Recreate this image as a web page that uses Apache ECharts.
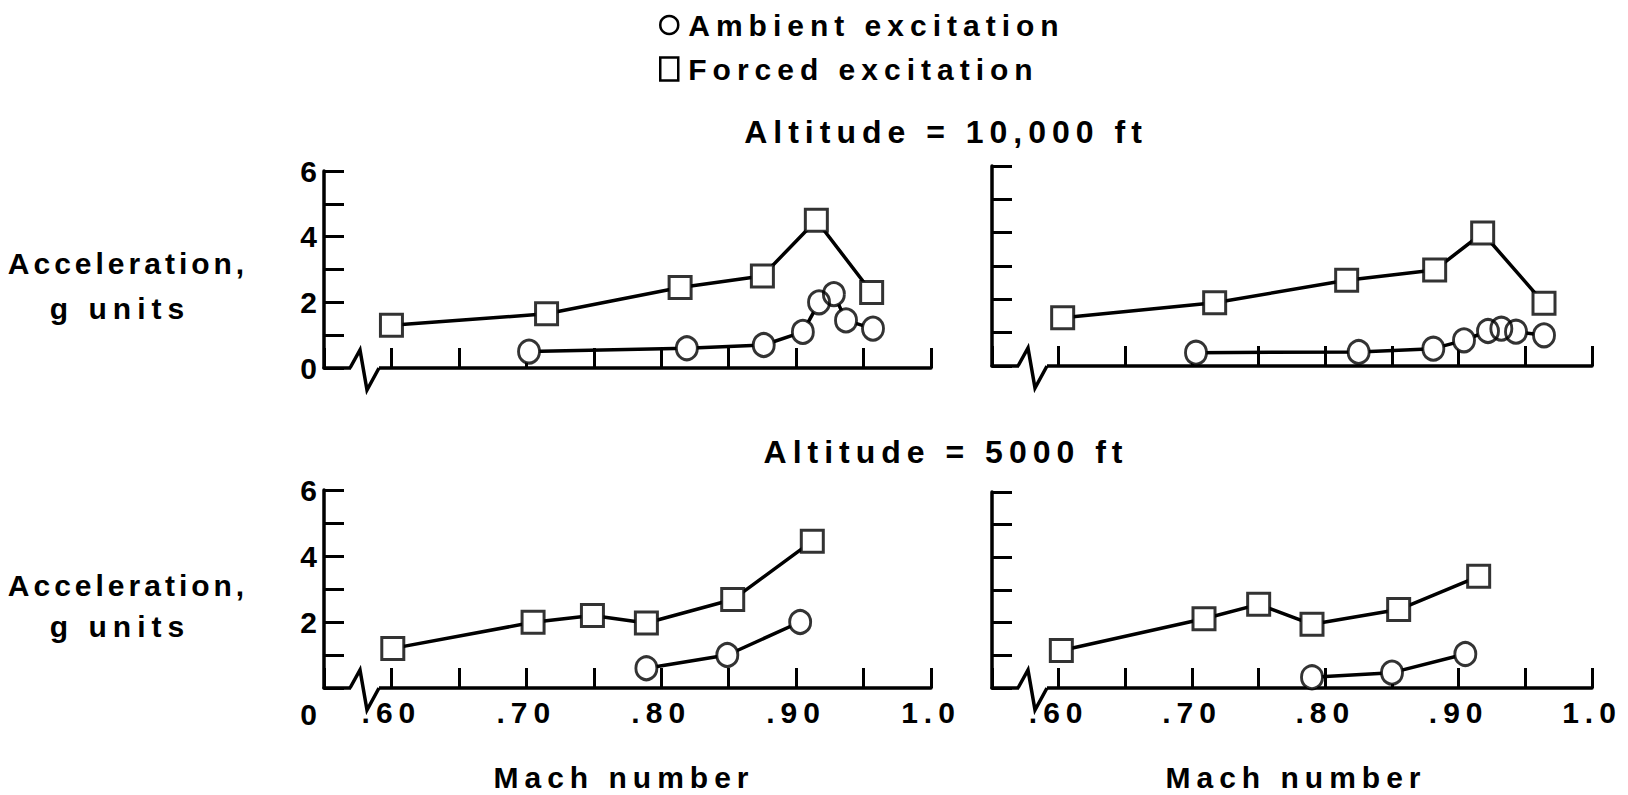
<!DOCTYPE html>
<html>
<head>
<meta charset="utf-8">
<title>Acceleration vs Mach number</title>
<script src="https://cdn.jsdelivr.net/npm/echarts@6/dist/echarts.min.js"></script>
<style>
html, body { margin: 0; padding: 0; background: #fff; }
#chart { width: 1628px; height: 795px; }
#chart text { letter-spacing: 6px; }
</style>
</head>
<body>
<div id="chart"></div>
<script>
'use strict';

// values: Mach number and acceleration (g units)
var hiLeftForcedMach = [0.600, 0.715, 0.814, 0.875, 0.915, 0.956];
var hiLeftForcedAcc = [1.3, 1.65, 2.45, 2.8, 4.5, 2.3];
var hiLeftAmbientMach = [0.702, 0.819, 0.876, 0.905, 0.917, 0.928, 0.937, 0.957];
var hiLeftAmbientAcc = [0.5, 0.6, 0.7, 1.1, 2.0, 2.25, 1.45, 1.2];

var hiRightForcedMach = [0.603, 0.717, 0.816, 0.882, 0.918, 0.964];
var hiRightForcedAcc = [1.45, 1.9, 2.57, 2.88, 3.99, 1.88];
var hiRightAmbientMach = [0.703, 0.825, 0.881, 0.904, 0.922, 0.932, 0.943, 0.964];
var hiRightAmbientAcc = [0.4, 0.42, 0.52, 0.77, 1.05, 1.12, 1.03, 0.92];

var loLeftForcedMach = [0.601, 0.705, 0.749, 0.789, 0.853, 0.912];
var loLeftForcedAcc = [1.2, 1.99, 2.2, 1.97, 2.68, 4.45];
var loLeftAmbientMach = [0.789, 0.849, 0.903];
var loLeftAmbientAcc = [0.6, 1.0, 2.0];

var loRightForcedMach = [0.602, 0.709, 0.75, 0.79, 0.855, 0.915];
var loRightForcedAcc = [1.15, 2.12, 2.56, 1.95, 2.4, 3.42];
var loRightAmbientMach = [0.79, 0.85, 0.905];
var loRightAmbientAcc = [0.33, 0.47, 1.04];

var machTicks = [0.60, 0.70, 0.80, 0.90, 1.0];
var machTickLabels = ['.60', '.70', '.80', '.90', '1.0'];
var accTicks = [0, 2, 4, 6];
var accTickLabels = ['0', '2', '4', '6'];

var AMBIENT = 'Ambient excitation';
var FORCED = 'Forced excitation';
var Y_TITLE = ['Acceleration,', 'g units'];
var FONT = '"Liberation Sans", Arial, sans-serif';
var FONT_SIZE = 30;

var grids = [
    { left: 324, top: 171, width: 607, height: 197 },
    { left: 992, top: 166, width: 600, height: 200 },
    { left: 324, top: 490, width: 607, height: 198 },
    { left: 992, top: 492, width: 600, height: 196 }
];
var panels = [
    { yLabels: true, xLabels: false, dropZero: false },
    { yLabels: false, xLabels: false, dropZero: false },
    { yLabels: true, xLabels: true, dropZero: true },
    { yLabels: false, xLabels: true, dropZero: false }
];

function pickLabel(v, ticks, labels) {
    for (var i = 0; i < ticks.length; i++) {
        if (Math.abs(v - ticks[i]) < 1e-6) return labels[i];
    }
    return '';
}

function pairs(xs, ys) {
    return xs.map(function(x, k) { return [x, ys[k]]; });
}

var textBase = { color: '#000', fontSize: FONT_SIZE, fontWeight: 'bold', fontFamily: FONT };

function makeSeries(name, symbol, size, xs, ys, idx) {
    return [{
        name: name,
        type: 'line',
        xAxisIndex: idx,
        yAxisIndex: idx,
        data: pairs(xs, ys),
        symbol: symbol,
        symbolSize: size,
        showAllSymbol: true,
        lineStyle: { color: '#000', width: 3.5 },
        itemStyle: { color: '#fff', borderWidth: 0 },
        emphasis: { disabled: true },
        z: 2
    }, {
        // outlines on top so overlapping markers keep their edges
        name: name,
        type: 'scatter',
        xAxisIndex: idx,
        yAxisIndex: idx,
        data: pairs(xs, ys),
        symbol: symbol,
        symbolSize: size,
        itemStyle: { color: 'rgba(0,0,0,0)', borderColor: '#000', borderWidth: 3 },
        emphasis: { disabled: true },
        z: 3
    }];
}

var CIRCLE = [21, 23];
var SQUARE = 22;

var series = [].concat(
    makeSeries(AMBIENT, 'circle', CIRCLE, hiLeftAmbientMach, hiLeftAmbientAcc, 0),
    makeSeries(FORCED, 'rect', SQUARE, hiLeftForcedMach, hiLeftForcedAcc, 0),
    makeSeries(AMBIENT, 'circle', CIRCLE, hiRightAmbientMach, hiRightAmbientAcc, 1),
    makeSeries(FORCED, 'rect', SQUARE, hiRightForcedMach, hiRightForcedAcc, 1),
    makeSeries(AMBIENT, 'circle', CIRCLE, loLeftAmbientMach, loLeftAmbientAcc, 2),
    makeSeries(FORCED, 'rect', SQUARE, loLeftForcedMach, loLeftForcedAcc, 2),
    makeSeries(AMBIENT, 'circle', CIRCLE, loRightAmbientMach, loRightAmbientAcc, 3),
    makeSeries(FORCED, 'rect', SQUARE, loRightForcedMach, loRightForcedAcc, 3)
);

var axisLineStyle = { color: '#000', width: 3.5 };
var tickStyle = { color: '#000', width: 3 };

var xAxes = grids.map(function(g, i) {
    return {
        gridIndex: i,
        type: 'value',
        min: 0.55,
        max: 1.0,
        interval: 0.05,
        axisLine: { onZero: false, lineStyle: axisLineStyle },
        axisTick: { show: true, inside: true, length: 20, lineStyle: tickStyle },
        splitLine: { show: false },
        axisLabel: Object.assign({
            show: panels[i].xLabels,
            margin: 9,
            formatter: function(v) { return pickLabel(v, machTicks, machTickLabels); }
        }, textBase)
    };
});

var yAxes = grids.map(function(g, i) {
    var drop = panels[i].dropZero;
    return {
        gridIndex: i,
        type: 'value',
        min: 0,
        max: 6,
        interval: 1,
        axisLine: { show: true, onZero: false, lineStyle: axisLineStyle },
        axisTick: { show: true, inside: true, length: 20, lineStyle: tickStyle },
        splitLine: { show: false },
        axisLabel: Object.assign({
            show: panels[i].yLabels,
            margin: 1,
            formatter: function(v) {
                var s = pickLabel(v, accTicks, accTickLabels);
                if (drop && v === 0) return '{drop|' + s + '}';
                return s;
            },
            rich: {
                drop: Object.assign({ padding: [52, 0, 0, 0] }, textBase)
            }
        }, textBase)
    };
});

function label(text, x, y, size) {
    return {
        type: 'text',
        x: x,
        y: y,
        z: 50,
        style: {
            text: text,
            fill: '#000',
            font: 'bold ' + (size || FONT_SIZE) + 'px ' + FONT,
            align: 'center',
            verticalAlign: 'middle'
        }
    };
}

// zigzag break where the Mach axis is cut short
function axisBreak(g) {
    var x0 = g.left, y0 = g.top + g.height;
    return {
        type: 'group',
        z: 50,
        children: [{
            type: 'rect',
            z: 50,
            shape: { x: x0 + 27, y: y0 - 3, width: 28, height: 6 },
            style: { fill: '#fff' }
        }, {
            type: 'polyline',
            z: 51,
            shape: { points: [[x0 + 26, y0], [x0 + 36, y0 - 18], [x0 + 43, y0 + 22], [x0 + 55, y0]] },
            style: { stroke: '#000', lineWidth: 3.5, fill: null }
        }]
    };
}

var graphics = [
    label('Altitude = 10,000 ft', 946, 132, 32),
    label('Altitude = 5000 ft', 946, 452, 32),
    label(Y_TITLE[0], 128, 263),
    label(Y_TITLE[1], 120, 308),
    label(Y_TITLE[0], 128, 585),
    label(Y_TITLE[1], 120, 626),
    label('Mach number', 624, 777),
    label('Mach number', 1296, 777)
].concat(grids.map(axisBreak));

var chart = echarts.init(document.getElementById('chart'), null, { renderer: 'svg', width: 1628, height: 795 });

// the first line of the axis title is set tighter than the other texts
function tightenTitles() {
    document.querySelectorAll('#chart text').forEach(function(n) {
        if (n.textContent === Y_TITLE[0]) n.style.letterSpacing = '4px';
    });
}
chart.on('finished', tightenTitles);

chart.setOption({
    animation: false,
    backgroundColor: '#fff',
    legend: {
        orient: 'vertical',
        left: 659,
        top: 10,
        padding: 0,
        itemWidth: 18,
        itemHeight: 23,
        itemGap: 14,
        symbolKeepAspect: false,
        selectedMode: false,
        itemStyle: { color: '#fff', borderColor: '#000', borderWidth: 2.5 },
        textStyle: Object.assign({ padding: [0, 0, 0, 5] }, textBase),
        data: [{ name: AMBIENT, icon: 'circle' }, { name: FORCED, icon: 'rect' }]
    },
    grid: grids.map(function(g) {
        return { left: g.left, top: g.top, width: g.width, height: g.height, containLabel: false, outerBoundsMode: 'none' };
    }),
    xAxis: xAxes,
    yAxis: yAxes,
    series: series,
    graphic: graphics
});
tightenTitles();
</script>
</body>
</html>
